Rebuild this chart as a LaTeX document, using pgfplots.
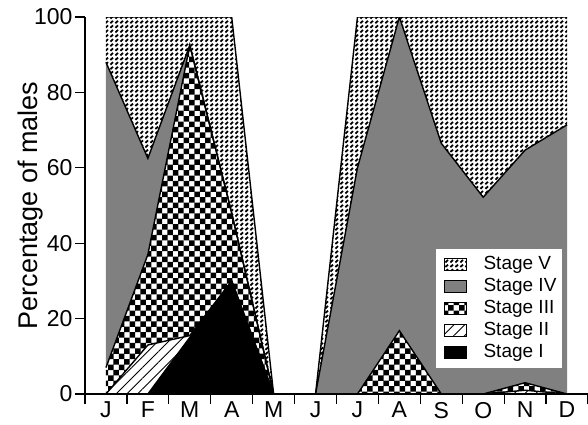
\documentclass[border=0pt]{standalone}
\usepackage{fontspec}
\setmainfont{Liberation Sans}
\usepackage{pgfplots}
\pgfplotsset{compat=1.18}
\usepgfplotslibrary{fillbetween}
\usetikzlibrary{patterns,patterns.meta}

% small slanted dashes for stage V
\pgfdeclarepatternformonly{stagev}{\pgfqpoint{-0.5pt}{-0.5pt}}{\pgfqpoint{3pt}{3pt}}{\pgfqpoint{2.5pt}{2.3pt}}{
  \pgfsetlinewidth{0.9pt}
  \pgfpathmoveto{\pgfqpoint{0.2pt}{0.3pt}}
  \pgfpathlineto{\pgfqpoint{1.5pt}{1.5pt}}
  \pgfusepath{stroke}
}
% checkerboard for stage III
\pgfdeclarepatternformonly{checker}{\pgfqpoint{-0.5pt}{-0.5pt}}{\pgfqpoint{6pt}{6pt}}{\pgfqpoint{5.4pt}{5.4pt}}{
  \pgfpathrectangle{\pgfqpoint{0pt}{0pt}}{\pgfqpoint{2.75pt}{2.75pt}}
  \pgfpathrectangle{\pgfqpoint{2.7pt}{2.7pt}}{\pgfqpoint{2.75pt}{2.75pt}}
  \pgfusepath{fill}
}

% cumulative tops of the stages
\pgfplotstableread{
m  c0 c1 c2   c3   c4   c5
1  0  0  0    7    88   100
2  0  0  13   37   62.5 100
3  0  15 15.5 92.5 92.5 100
4  0  30 30   48   48   100
5  0  0  0    0    0    0
6  0  0  0    0    0    0
7  0  0  0    0    60   100
8  0  0  0    16.8 100  100
9  0  0  0    0    66.5 100
10 0  0  0    0    52.2 100
11 0  0  1    3    64.7 100
12 0  0  0    0    71.4 100
}\stages

\begin{document}
\begin{tikzpicture}
\begin{axis}[
  set layers,
  scale only axis,
  width=251.5pt, height=188.5pt,
  xmin=0.5, xmax=12.5, ymin=0, ymax=100,
  axis lines*=left,
  tick align=outside,
  xtick={1,...,12},
  xticklabels={J,F,M,A,M,J,J,A,S,O,N,D},
  major x tick style={draw=none},
  minor xtick={0.5,1.5,...,12.5},
  ytick={0,20,40,60,80,100},
  yticklabels={0,20,40,60,80,100},
  major tick length=5pt, minor tick length=5pt,
  tick style={black, line width=0.6pt},
  axis line style={line width=0.6pt},
  ticklabel style={font=\fontsize{11.5}{13}\selectfont},
  yticklabel style={xshift=2.3pt},
  xticklabel style={yshift=4.5pt},
  ylabel={Percentage of males},
  ylabel style={font=\fontsize{13.5}{16}\selectfont, at={(axis description cs:-0.109,0.5)}, anchor=center},
  legend image code/.code={\draw[#1] (3pt,-3pt) rectangle (14pt,3pt); \path (0pt,0pt) (20.5pt,0pt);},
  legend cell align=left,
  legend style={font=\fontsize{9.5}{10}\selectfont, draw=none, fill=white,
    at={(0.950,0.387)}, anchor=north east, inner xsep=1pt, inner ysep=2pt, row sep=-1.2pt},
]
\addplot[draw=none, name path=c0, forget plot] table[x=m, y=c0] {\stages};
\addplot[black, line width=0.7pt, name path=c1, forget plot] table[x=m, y=c1] {\stages};
\addplot[black, line width=0.7pt, name path=c2, forget plot] table[x=m, y=c2] {\stages};
\addplot[black, line width=0.7pt, name path=c3, forget plot] table[x=m, y=c3] {\stages};
\addplot[black, line width=0.7pt, name path=c4, forget plot] table[x=m, y=c4] {\stages};
\addplot[black, line width=0.7pt, name path=c5, forget plot] table[x=m, y=c5] {\stages};

\addplot[black, forget plot] fill between[of=c0 and c1];
\addplot[pattern={Lines[angle=45, distance=3.8pt, line width=0.45pt]}, forget plot] fill between[of=c1 and c2];
\addplot[pattern=checker, forget plot] fill between[of=c2 and c3];
\addplot[fill=gray, forget plot] fill between[of=c3 and c4];
\addplot[pattern=stagev, forget plot] fill between[of=c4 and c5];

\addlegendimage{draw=black, pattern=stagev}
\addlegendentry{Stage V}
\addlegendimage{draw=black, fill=gray}
\addlegendentry{Stage IV}
\addlegendimage{draw=black, pattern=checker}
\addlegendentry{Stage III}
\addlegendimage{draw=black, pattern={Lines[angle=45, distance=3.8pt, line width=0.45pt]}}
\addlegendentry{Stage II}
\addlegendimage{draw=black, fill=black}
\addlegendentry{Stage I}
\end{axis}
\pgfresetboundingbox
\path (-42.5pt,-15pt) rectangle (251.5pt,197pt);
\end{tikzpicture}
\end{document}
